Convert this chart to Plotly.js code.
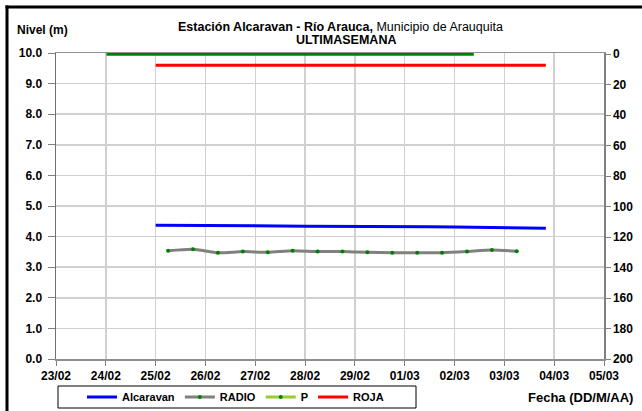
<!DOCTYPE html>
<html>
<head>
<meta charset="utf-8">
<script src="https://cdn.plot.ly/plotly-3.0.1.min.js"></script>
<style>html,body{margin:0;padding:0;background:#fff;}#chart{width:642px;height:411px;}</style>
</head>
<body>
<div id="chart"></div>
<script>
// ---- data ----
const alcaravanTimes = ['2012-02-25 00:00','2012-02-25 12:00','2012-02-26 00:00','2012-02-26 12:00','2012-02-27 00:00','2012-02-27 12:00','2012-02-28 00:00','2012-02-28 12:00','2012-02-29 00:00','2012-02-29 12:00','2012-03-01 00:00','2012-03-01 12:00','2012-03-02 00:00','2012-03-02 12:00','2012-03-03 00:00','2012-03-03 12:00','2012-03-03 20:00'];
const alcaravanLevels = [4.37,4.37,4.36,4.36,4.35,4.35,4.34,4.34,4.33,4.33,4.32,4.32,4.31,4.30,4.29,4.28,4.27];

const radioTimes = ['2012-02-25 06:00','2012-02-25 18:00','2012-02-26 06:00','2012-02-26 18:00','2012-02-27 06:00','2012-02-27 18:00','2012-02-28 06:00','2012-02-28 18:00','2012-02-29 06:00','2012-02-29 18:00','2012-03-01 06:00','2012-03-01 18:00','2012-03-02 06:00','2012-03-02 18:00','2012-03-03 06:00'];
const radioLevels = [3.54,3.59,3.47,3.51,3.49,3.54,3.51,3.51,3.49,3.47,3.47,3.47,3.51,3.56,3.52];

const pTimes = ['2012-02-24 00:20','2012-02-25 00:00','2012-02-26 00:00','2012-02-27 00:00','2012-02-28 00:00','2012-02-29 00:00','2012-03-01 00:00','2012-03-02 00:00','2012-03-02 09:15'];
const pValues = [0,0,0,0,0,0,0,0,0];

const rojaTimes = ['2012-02-25 00:00','2012-03-03 20:00'];
const rojaLevels = [9.6,9.6];

const xRange = ['2012-02-23 00:00','2012-03-05 00:00'];
const yLeftRange = [0,10];
const yRightRange = [200,-0.8];
const yRightTicks = [0,20,40,60,80,100,120,140,160,180,200];

// ---- chart ----
const tickFont = {family:'Liberation Sans, Arial, sans-serif', size:12, color:'#000', weight:'bold'};

const traces = [
  {x: alcaravanTimes, y: alcaravanLevels, name:'Alcaravan', mode:'lines',
   line:{color:'#0000ff', width:3}, yaxis:'y'},
  {x: radioTimes, y: radioLevels, name:'RADIO', mode:'lines+markers',
   line:{color:'#808080', width:3, shape:'spline', smoothing:0.6},
   marker:{color:'#008000', size:4}, yaxis:'y'},
  {x: [null], y: [null], name:'P', mode:'lines+markers',
   line:{color:'#99cc33', width:3}, marker:{color:'#008000', size:4}, yaxis:'y2', legendgroup:'p'},
  {x: rojaTimes, y: rojaLevels, name:'ROJA', mode:'lines',
   line:{color:'#ff0000', width:3}, yaxis:'y'},
  {x: pTimes, y: pValues, name:'P', mode:'lines', showlegend:false, legendgroup:'p',
   line:{color:'#008000', width:3}, yaxis:'y2', cliponaxis:false}
];

const L = 56, R = 38, T = 53, B = 52, W = 642, H = 411;
const pw = W - L - R, ph = H - T - B;
const px = v => (v - L) / pw;
const py = v => (H - B - v) / ph;

const layout = {
  width: W, height: H,
  margin: {l:L, r:R, t:T, b:B, pad:0, autoexpand:false},
  paper_bgcolor:'#fff', plot_bgcolor:'#fff',
  showlegend: true,
  font: {family:'Liberation Sans, Arial, sans-serif', size:12, color:'#000'},
  xaxis: {
    type:'date', range: xRange, dtick: 86400000, tick0:'2012-02-23',
    tickformat:'%d/%m', tickfont: tickFont,
    showgrid:true, gridcolor:'#d0d0d0', gridwidth:1.5,
    showline:true, linecolor:'#909090', linewidth:1.5, mirror:true,
    ticks:'outside', ticklen:5, tickcolor:'#808080',
    zeroline:false, fixedrange:true, layer:'below traces'
  },
  yaxis: {
    range: yLeftRange, dtick:1, tickformat:'.1f', tickfont: tickFont,
    showgrid:true, gridcolor:'#d0d0d0', gridwidth:1.5,
    showline:true, linecolor:'#707070', linewidth:1.5,
    ticks:'outside', ticklen:7, tickcolor:'#808080', ticklabelstandoff:3,
    zeroline:false, layer:'below traces'
  },
  yaxis2: {
    overlaying:'y', side:'right', range: yRightRange, tickvals: yRightTicks, tickfont: tickFont,
    showgrid:false, showline:true, linecolor:'#808080', linewidth:1.5,
    ticks:'outside', ticklen:5, tickcolor:'#808080',
    zeroline:false, layer:'below traces'
  },
  legend: {
    orientation:'h', x: px(82), xanchor:'left', y: py(397), yanchor:'middle',
    borderwidth:0, bgcolor:'rgba(0,0,0,0)',
    font:{family:'Liberation Sans, Arial, sans-serif', size:11, color:'#000', weight:'bold'},
    itemwidth:30, traceorder:'normal'
  },
  annotations: [
    {xref:'paper', yref:'paper', x: px(340), y: py(27), xanchor:'center', yanchor:'middle', showarrow:false,
     text:'<b>Estación Alcaravan - Río Arauca,</b> Municipio de Arauquita', font:{size:12.5}},
    {xref:'paper', yref:'paper', x: px(346), y: py(40), xanchor:'center', yanchor:'middle', showarrow:false,
     text:'<b>ULTIMASEMANA</b>', font:{size:12.5}},
    {xref:'paper', yref:'paper', x: px(15), y: py(30), xanchor:'left', yanchor:'middle', showarrow:false,
     text:'<b>Nivel (m)</b>', font:{size:12}},
    {xref:'paper', yref:'paper', x: px(635), y: py(397), xanchor:'right', yanchor:'middle', showarrow:false,
     text:'<b>Fecha (DD/M/AA)</b>', font:{size:13}}
  ],
  shapes: [
    {type:'line', xref:'paper', yref:'paper', x0: px(7), x1: px(7), y0: py(411), y1: py(5.5), line:{color:'#000', width:3}},
    {type:'line', xref:'paper', yref:'paper', x0: px(5.5), x1: px(642), y0: py(7), y1: py(7), line:{color:'#000', width:3}},
    {type:'rect', xref:'paper', yref:'paper', x0: px(58), x1: px(416), y0: py(386), y1: py(408), line:{color:'#000', width:1}, fillcolor:'rgba(0,0,0,0)'}
  ]
};

Plotly.newPlot('chart', traces, layout, {staticPlot:true, displayModeBar:false});
</script>
</body>
</html>
